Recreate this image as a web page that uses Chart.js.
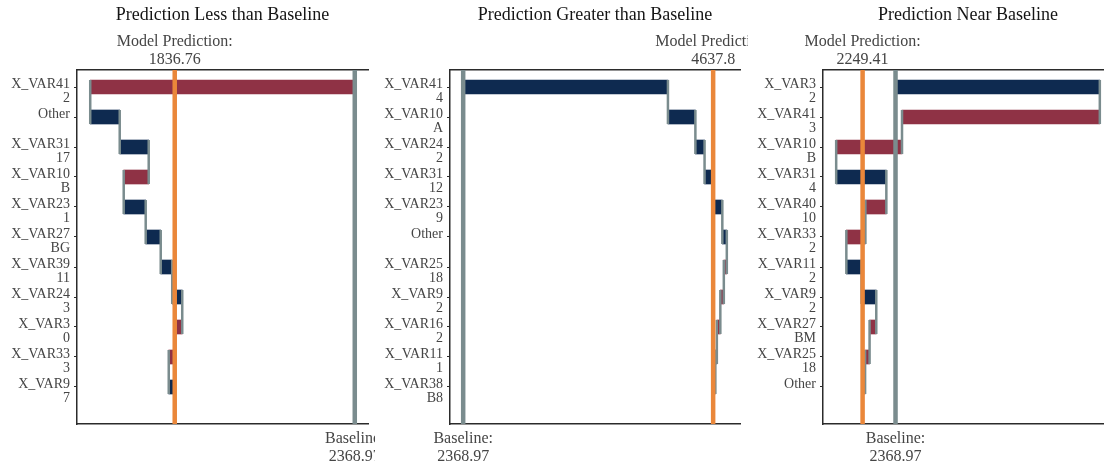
<!DOCTYPE html>
<html lang="en">
<head>
  <meta charset="UTF-8" />
  <title>Prediction breakdown vs baseline</title>
  <style>
  body {
    margin: 0;
    background: #fff;
    width: 1104px;
    height: 465px;
    overflow: hidden;
    position: relative;
  }
  canvas {
    position: absolute;
    top: 0;
  }
  </style>
  <script src="https://cdn.jsdelivr.net/npm/chart.js"></script>
</head>
<body>
  <canvas id="lessChart" width="375" height="465" style="left:0px"></canvas>
  <canvas id="greaterChart" width="376" height="465" style="left:372px"></canvas>
  <canvas id="nearChart" width="372" height="465" style="left:745px"></canvas>

  <script>
  const baseline = 2368.97;

  // Prediction Less than Baseline
  const lessVars = ['X_VAR41', 'Other', 'X_VAR31', 'X_VAR10', 'X_VAR23', 'X_VAR27', 'X_VAR39', 'X_VAR24', 'X_VAR3', 'X_VAR33', 'X_VAR9'];
  const lessLevels = ['2', '', '17', 'B', '1', 'BG', '11', '3', '0', '3', '7'];
  const lessEffects = [-782.0, 87.2, 85.7, -73.9, 65.0, 44.4, 34.0, 29.6, -20.7, -19.2, 17.69];
  const lessPrediction = 1836.76;

  // Prediction Greater than Baseline
  const greaterVars = ['X_VAR41', 'X_VAR10', 'X_VAR24', 'X_VAR31', 'X_VAR23', 'Other', 'X_VAR25', 'X_VAR9', 'X_VAR16', 'X_VAR11', 'X_VAR38'];
  const greaterLevels = ['4', 'A', '2', '12', '9', '', '18', '2', '2', '1', 'B8'];
  const greaterEffects = [1858.5, 249.1, 83.3, 70.6, 90.6, 40.8, -27.2, -31.7, -31.7, -13.6, -19.87];
  const greaterPrediction = 4637.8;

  // Prediction Near Baseline
  const nearVars = ['X_VAR3', 'X_VAR41', 'X_VAR10', 'X_VAR31', 'X_VAR40', 'X_VAR33', 'X_VAR11', 'X_VAR9', 'X_VAR27', 'X_VAR25', 'Other'];
  const nearLevels = ['2', '3', 'B', '4', '10', '2', '2', '2', 'BM', '18', ''];
  const nearEffects = [742.0, -718.4, -239.1, 182.2, -76.1, -69.2, 55.4, 53.3, -24.3, -16.3, -9.06];
  const nearPrediction = 2249.41;

  const UP = '#0e2a50';
  const DOWN = '#8f3245';
  const GREY = '#7a8c8e';
  const ORANGE = '#ea873a';
  const AXIS = '#2b2b2b';
  const TEXT = '#454545';
  const SERIF = '"Liberation Serif", "Times New Roman", serif';

  const ROW = 30;        // px between rows
  const HALF = 7 / ROW;  // half bar height in row units

  // title + model prediction / baseline captions
  const captions = {
    id: 'captions',
    afterDraw(chart, args, opts) {
      const { ctx, chartArea, scales } = chart;
      const x = scales.x;
      ctx.save();
      ctx.textAlign = 'center';
      ctx.textBaseline = 'alphabetic';
      ctx.fillStyle = '#151515';
      ctx.font = '18px ' + SERIF;
      ctx.fillText(opts.title, (chartArea.left + chartArea.right) / 2, 20);

      ctx.fillStyle = TEXT;
      ctx.font = '16px ' + SERIF;
      const px = x.getPixelForValue(opts.prediction);
      ctx.fillText('Model Prediction:', px, 46);
      ctx.fillText(String(opts.prediction), px, 64);
      const bx = x.getPixelForValue(baseline);
      ctx.fillText('Baseline:', bx, 443);
      ctx.fillText(String(baseline), bx, 461);
      ctx.restore();
    }
  };

  function drawPanel(id, title, vars, levels, effects, prediction, yWidth, padRight) {
    let cum = baseline;
    const bars = effects.map((e, i) => {
      const start = cum;
      cum += e;
      return { x: [start, cum], y: i + 1 };
    });
    const colors = effects.map(e => (e < 0 ? DOWN : UP));

    // waterfall connectors: end of one bar down to the next one
    const links = [];
    for (let i = 0; i < bars.length - 1; i++) {
      const v = bars[i].x[1];
      links.push({ x: v, y: i + 1 - HALF }, { x: v, y: i + 2 + HALF }, { x: null, y: null });
    }

    const ends = [baseline, ...bars.map(b => b.x[1])];
    const lo = Math.min(...ends);
    const hi = Math.max(...ends);
    const pad = (hi - lo) * 0.05;
    const yMin = 1 - 17 / ROW;
    const yMax = vars.length + 37 / ROW;

    const xAxis = (position) => ({
      type: 'linear',
      position: position,
      min: lo - pad,
      max: hi + pad,
      offset: false,
      beginAtZero: false,
      ticks: { display: false },
      grid: { display: false },
      border: { color: AXIS, width: 1.5 },
      afterFit: s => { s.height = 0; }
    });

    new Chart(document.getElementById(id), {
      type: 'bar',
      data: {
        datasets: [
          {
            type: 'line',
            data: [{ x: prediction, y: yMin }, { x: prediction, y: yMax }],
            borderColor: ORANGE,
            borderWidth: 4.5,
            pointRadius: 0,
            clip: 0,
            order: 1
          },
          {
            type: 'line',
            data: [{ x: baseline, y: yMin }, { x: baseline, y: yMax }],
            borderColor: GREY,
            borderWidth: 4.5,
            pointRadius: 0,
            clip: 0,
            order: 2
          },
          {
            type: 'line',
            data: links,
            borderColor: GREY,
            borderWidth: 2.5,
            pointRadius: 0,
            spanGaps: false,
            order: 3
          },
          {
            type: 'bar',
            data: bars,
            backgroundColor: colors,
            barThickness: 14,
            borderWidth: 0,
            order: 4
          }
        ]
      },
      options: {
        indexAxis: 'y',
        responsive: false,
        animation: false,
        layout: { padding: { top: 70, bottom: 41, left: 0, right: padRight } },
        plugins: {
          legend: { display: false },
          tooltip: { enabled: false },
          captions: { title: title, prediction: prediction }
        },
        scales: {
          x: xAxis('bottom'),
          xTop: xAxis('top'),
          y: {
            type: 'linear',
            reverse: true,
            min: yMin,
            max: yMax,
            offset: false,
            beginAtZero: false,
            afterBuildTicks: s => { s.ticks = vars.map((_, i) => ({ value: i + 1 })); },
            afterFit: s => { s.width = yWidth; },
            ticks: {
              autoSkip: false,
              padding: 4,
              labelOffset: 4,
              color: TEXT,
              font: { family: SERIF, size: 14, lineHeight: 1 },
              callback: v => [vars[v - 1], levels[v - 1]]
            },
            grid: { drawOnChartArea: false, offset: false, tickLength: 3, color: AXIS, lineWidth: 1 },
            border: { color: AXIS, width: 1.5 }
          }
        }
      },
      plugins: [captions]
    });
  }

  drawPanel('lessChart', 'Prediction Less than Baseline', lessVars, lessLevels, lessEffects, lessPrediction, 77, 7);
  drawPanel('greaterChart', 'Prediction Greater than Baseline', greaterVars, greaterLevels, greaterEffects, greaterPrediction, 78, 8);
  drawPanel('nearChart', 'Prediction Near Baseline', nearVars, nearLevels, nearEffects, nearPrediction, 78, 4);
  </script>
</body>
</html>
